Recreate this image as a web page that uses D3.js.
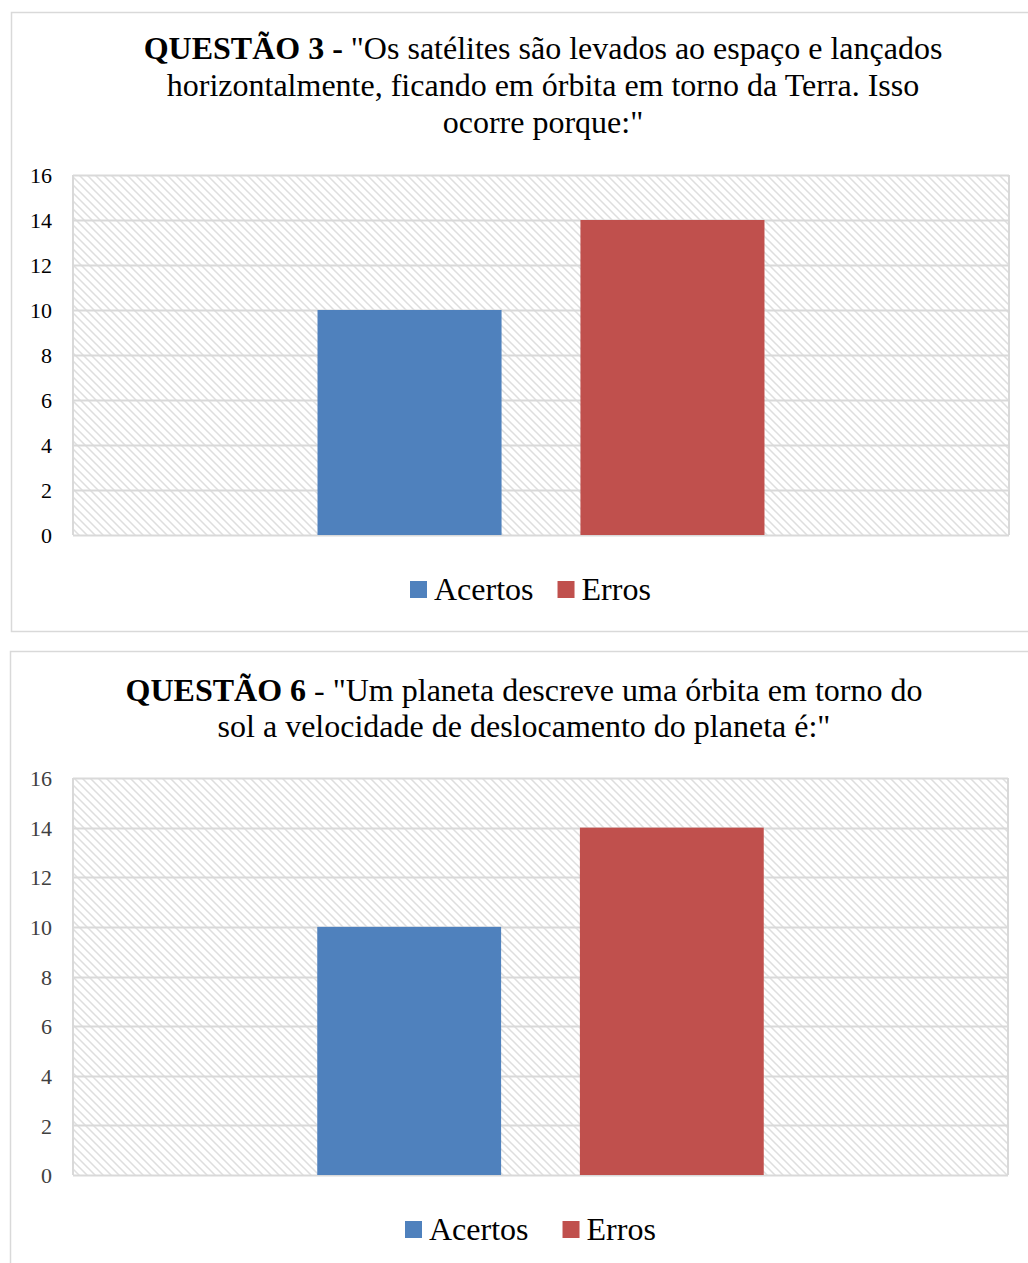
<!DOCTYPE html>
<html>
<head>
<meta charset="utf-8">
<script src="https://cdn.jsdelivr.net/npm/d3@7"></script>
<style>
  html, body { margin: 0; padding: 0; background: #fff; }
  svg { display: block; font-family: "Liberation Serif", "Times New Roman", serif; }
</style>
</head>
<body>
<svg id="chart" width="1028" height="1263"></svg>
<script>
// Answer counts per question
const categories = ["Acertos", "Erros"];
const colors = ["#4f81bd", "#c0504d"];
const yTicks = [0, 2, 4, 6, 8, 10, 12, 14, 16];

const q3Title = [
  [{ t: "QUESTÃO 3 - ", b: true }, { t: "\"Os satélites são levados ao espaço e lançados", b: false }],
  [{ t: "horizontalmente, ficando em órbita em torno da Terra. Isso", b: false }],
  [{ t: "ocorre porque:\"", b: false }]
];
const q3Values = [10, 14];

const q6Title = [
  [{ t: "QUESTÃO 6", b: true }, { t: " - \"Um planeta descreve uma órbita em torno do", b: false }],
  [{ t: "sol a velocidade de deslocamento do planeta é:\"", b: false }]
];
const q6Values = [10, 14];

const svg = d3.select("#chart");

// Diagonal hatch fill for the plot area
const defs = svg.append("defs");
const pat = defs.append("pattern")
  .attr("id", "hatch")
  .attr("patternUnits", "userSpaceOnUse")
  .attr("width", 8).attr("height", 8);
pat.append("rect").attr("width", 8).attr("height", 8).attr("fill", "#fff");
pat.append("path")
  .attr("d", "M-2,-2 L10,10 M-2,6 L2,10 M6,-2 L10,2")
  .attr("stroke", "#dedede").attr("stroke-width", 1.5);

function drawChart(cfg) {
  const g = svg.append("g");

  // outer frame
  g.append("rect")
    .attr("x", cfg.frame[0] + 0.5).attr("y", cfg.frame[1] + 0.5)
    .attr("width", cfg.frame[2]).attr("height", cfg.frame[3])
    .attr("fill", "#fff").attr("stroke", "#d9d9d9").attr("stroke-width", 1.5);

  // title
  cfg.title.forEach((line, i) => {
    const t = g.append("text")
      .attr("x", cfg.titleX).attr("y", cfg.titleY + i * cfg.titleLH)
      .attr("text-anchor", "middle")
      .attr("font-size", 32).attr("fill", "#000");
    line.forEach(seg => {
      t.append("tspan").attr("font-weight", seg.b ? "bold" : "normal").text(seg.t);
    });
  });

  const p = cfg.plot;
  const y = d3.scaleLinear().domain([0, 16]).range([p.y1, p.y0]);
  const x = d3.scaleBand().domain(categories).range([p.x0, p.x1])
    .paddingInner(0.3).paddingOuter(0.93);

  // hatched background
  g.append("rect")
    .attr("x", p.x0).attr("y", p.y0)
    .attr("width", p.x1 - p.x0).attr("height", p.y1 - p.y0)
    .attr("fill", "url(#hatch)");

  // grid lines
  g.append("g").selectAll("line").data(yTicks).join("line")
    .attr("x1", p.x0).attr("x2", p.x1)
    .attr("y1", d => Math.round(y(d)) + 0.5).attr("y2", d => Math.round(y(d)) + 0.5)
    .attr("stroke", "#d9d9d9").attr("stroke-width", 2);
  // plot border sides
  g.append("line").attr("x1", p.x0).attr("x2", p.x0).attr("y1", p.y0).attr("y2", p.y1)
    .attr("stroke", "#d9d9d9").attr("stroke-width", 2);
  g.append("line").attr("x1", p.x1).attr("x2", p.x1).attr("y1", p.y0).attr("y2", p.y1)
    .attr("stroke", "#d9d9d9").attr("stroke-width", 2);

  // y axis labels
  const axis = d3.axisLeft(y).tickValues(yTicks).tickSize(0).tickPadding(0);
  const ag = g.append("g").attr("transform", `translate(${cfg.labelX},0)`).call(axis);
  ag.select(".domain").remove();
  ag.selectAll("text")
    .attr("font-family", "Liberation Serif, Times New Roman, serif")
    .attr("font-size", 22).attr("fill", cfg.tickColor).attr("dy", "0.35em");

  // bars
  g.append("g").selectAll("rect").data(cfg.values).join("rect")
    .attr("x", (d, i) => x(categories[i]))
    .attr("width", x.bandwidth())
    .attr("y", d => y(d))
    .attr("height", d => y(0) - y(d))
    .attr("fill", (d, i) => colors[i]);

  // legend
  const lg = g.append("g");
  let lx = cfg.legendX;
  categories.forEach((c, i) => {
    lg.append("rect")
      .attr("x", lx).attr("y", cfg.legendY - 19)
      .attr("width", 17).attr("height", 17)
      .attr("fill", colors[i]);
    const t = lg.append("text")
      .attr("x", lx + 24).attr("y", cfg.legendY)
      .attr("font-size", 32).attr("fill", "#000")
      .text(c);
    lx += 24 + t.node().getComputedTextLength() + cfg.legendGap;
  });
}

drawChart({
  frame: [11, 12, 1030, 619],
  title: q3Title, titleX: 543, titleY: 59, titleLH: 37,
  plot: { x0: 73, x1: 1009, y0: 175, y1: 535 },
  labelX: 52, tickColor: "#000",
  values: q3Values,
  legendX: 410, legendY: 600, legendGap: 24
});

drawChart({
  frame: [10, 651, 1030, 620],
  title: q6Title, titleX: 524, titleY: 701, titleLH: 36,
  plot: { x0: 73, x1: 1008, y0: 778, y1: 1175 },
  labelX: 52, tickColor: "#404040",
  values: q6Values,
  legendX: 405, legendY: 1240, legendGap: 34
});
</script>
</body>
</html>
